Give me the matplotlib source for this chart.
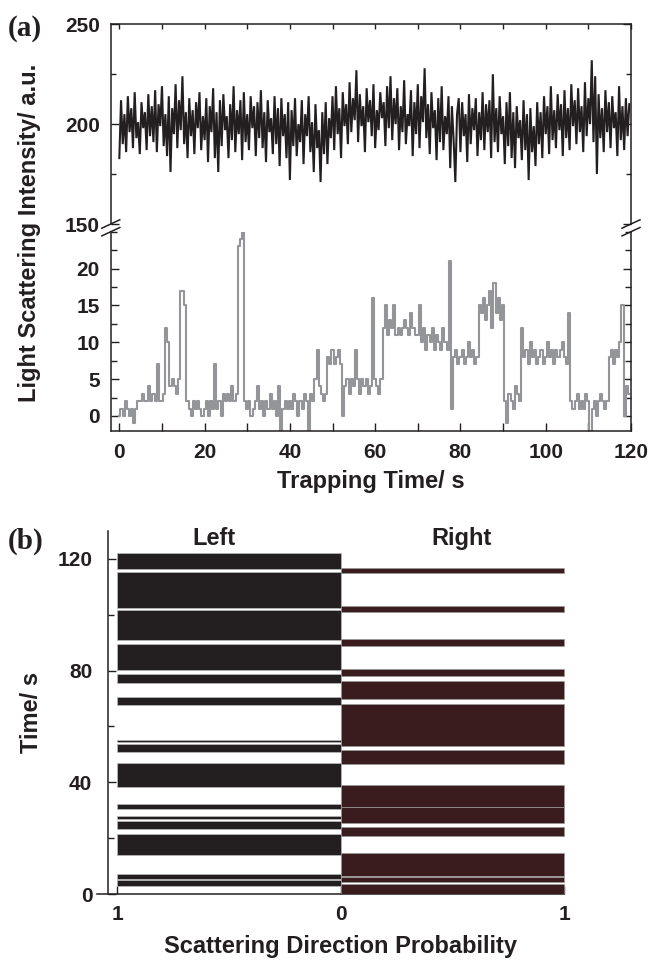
import numpy as np
import matplotlib
matplotlib.use('Agg')
import matplotlib.pyplot as plt
from matplotlib.ticker import MultipleLocator, FixedLocator
from matplotlib.lines import Line2D

plt.rcParams['font.family'] = ['Liberation Sans', 'DejaVu Sans']
plt.rcParams['font.weight'] = 'bold'

# ---------------- data ----------------
# panel (a): total scattering (black), sampled every 0.4 s
black_dt = 0.4
black_values = [
    183, 212, 190, 205, 186, 214, 196, 208, 188, 216, 193, 201, 185, 211, 198, 206, 187, 215, 194, 209,
    191, 217, 186, 210, 199, 219, 189, 205, 184, 214, 176, 208, 195, 220, 188, 212, 197, 224, 190, 206,
    183, 213, 194, 207, 185, 211, 198, 216, 187, 204, 192, 213, 181, 209, 196, 218, 183, 206, 176, 212,
    189, 215, 197, 204, 183, 210, 192, 219, 186, 207, 195, 212, 182, 216, 191, 205, 187, 214, 198, 209,
    184, 211, 193, 217, 188, 206, 181, 212, 196, 203, 185, 214, 190, 208, 179, 213, 194, 205, 183, 211,
    172, 207, 189, 213, 184, 200, 191, 212, 180, 205, 194, 214, 186, 201, 176, 210, 188, 197, 171, 206,
    185, 211, 180, 203, 193, 214, 187, 219, 195, 208, 183, 216, 199, 210, 190, 221, 196, 213, 202, 227,
    191, 215, 199, 209, 186, 218, 201, 212, 194, 220, 188, 207, 197, 216, 203, 211, 189, 219, 198, 224,
    192, 213, 200, 218, 187, 209, 196, 222, 190, 205, 199, 217, 184, 211, 195, 220, 188, 214, 201, 228,
    193, 210, 185, 216, 198, 207, 182, 213, 191, 219, 187, 204, 195, 214, 178, 209, 192, 171, 205, 213,
    186, 211, 194, 205, 181, 215, 190, 208, 197, 213, 184, 206, 192, 216, 187, 210, 196, 212, 183, 225,
    191, 208, 186, 214, 195, 204, 180, 211, 189, 216, 183, 206, 178, 209, 193, 202, 182, 212, 187, 205,
    172, 208, 186, 199, 179, 211, 190, 206, 183, 214, 195, 209, 185, 219, 192, 207, 188, 215, 197, 210,
    184, 217, 193, 208, 187, 220, 199, 212, 190, 218, 196, 209, 186, 221, 194, 213, 200, 232, 191, 224,
    175, 215, 193, 208, 186, 217, 196, 211, 188, 214, 198, 206, 184, 219, 192, 209, 187, 213, 194, 210,
]
# panel (a): single-direction scattering (gray), sampled every 0.5 s
gray_dt = 0.5
gray_values = [
    0, 1, 0, 2, 1, 0, 1, -1, 1, 2, 2, 3, 2, 2, 4, 2, 3, 2, 7, 2,
    2, 3, 12, 10, 4, 5, 4, 3, 5, 17, 17, 15, 2, 1, 0, 2, 1, 2, 1, 0,
    1, 2, 0, 2, 1, 7, 1, 2, 0, 3, 2, 3, 2, 4, 2, 3, 23, 24, 25, 2,
    1, 2, 0, 1, 2, 4, 1, 2, 0, 2, 1, 3, 1, 2, 0, 4, -2, 1, 2, 1,
    2, 1, 3, 2, 0, 2, 1, 3, 2, -2, 3, 2, 5, 9, 4, 3, 2, 3, 8, 7,
    9, 7, 8, 9, 7, 0, 4, 5, 3, 5, 4, 9, 5, 3, 5, 4, 5, 3, 4, 16,
    5, 4, 3, 5, 12, 15, 11, 13, 12, 15, 11, 12, 11, 12, 13, 12, 11, 14, 12, 11,
    11, 15, 10, 12, 9, 11, 10, 12, 9, 11, 10, 9, 12, 10, 9, 21, 1, 8, 9, 7,
    8, 9, 7, 8, 10, 8, 9, 7, 8, 15, 14, 16, 13, 15, 17, 12, 18, 14, 16, 13,
    15, 2, -1, 3, 2, 1, 4, 3, 2, 12, 8, 9, 7, 10, 8, 9, 7, 8, 9, 7,
    8, 10, 8, 9, 7, 9, 8, 9, 10, 8, 7, 14, 2, 1, 2, 3, 1, 2, 1, 3,
    2, -2, 1, 2, 0, 2, 3, 2, 1, 2, 8, 9, 7, 9, 8, 10, 15, 0, 4, 3,
]
time_ticks_a = [0, 20, 40, 60, 80, 100, 120]
upper_ticks = [150, 200, 250]
lower_ticks = [0, 5, 10, 15, 20]

# panel (b): time windows (s) of left / right scattering
left_start = [3.1, 5.5, 14.1, 23.4, 26.8, 30.6, 38.4, 50.9, 54.3, 67.6, 75.7, 80.1, 91.1, 102.5, 116.4]
left_end = [5.0, 7.25, 21.5, 26.2, 28.1, 32.3, 47.0, 53.6, 55.1, 70.6, 78.9, 89.5, 101.5, 115.2, 122.1]
right_start = [0.0, 4.5, 6.5, 20.9, 25.6, 31.3, 46.5, 53.1, 69.75, 78.2, 88.8, 100.9, 114.7]
right_end = [3.7, 6.1, 14.9, 24.1, 31.3, 39.0, 51.5, 68.2, 76.4, 80.7, 91.4, 103.1, 116.8]
prob_ticks = [-1, 0, 1]
prob_labels = ['1', '0', '1']
time_ticks_b = [0, 40, 80, 120]

# ---------------- figure ----------------
W, H = 649, 960
fig = plt.figure(figsize=(W / 100, H / 100), dpi=100)

def fx(x):
    return x / W

def fy(y):
    return 1 - y / H

def box(x0, y0, x1, y1):
    return [fx(x0), fy(y1), fx(x1) - fx(x0), fy(y0) - fy(y1)]

BLACK = '#231f20'
GRAY = '#939598'
RED = '#3a1c1f'
TS = 15
LS = 17

ax_top = fig.add_axes(box(110.8, 24.3, 631, 224))
ax_bot = fig.add_axes(box(110.8, 231.7, 631, 430.7))
ax_b = fig.add_axes(box(108.3, 530.7, 573, 894.3))

t_black = np.arange(len(black_values)) * black_dt
t_gray = np.arange(len(gray_values)) * gray_dt
ax_top.plot(t_black, black_values, color=BLACK, lw=1.5, solid_joinstyle='miter')
ax_bot.plot(t_gray, gray_values, color=GRAY, lw=1.5, drawstyle='steps-mid')

for ax in (ax_top, ax_bot, ax_b):
    for sp in ax.spines.values():
        sp.set_linewidth(1.1)
        sp.set_color(BLACK)

# upper
ax_top.set_xlim(-2, 120)
ax_top.set_ylim(150, 250)
ax_top.spines['bottom'].set_visible(False)
ax_top.xaxis.set_major_locator(MultipleLocator(10))
ax_top.tick_params(axis='x', which='both', bottom=False, top=True, labelbottom=False,
                   direction='in', length=3.5, width=1.0, color=BLACK)
ax_top.yaxis.set_major_locator(FixedLocator(upper_ticks))
ax_top.yaxis.set_minor_locator(MultipleLocator(25))
ax_top.tick_params(axis='y', which='both', left=True, right=True, direction='in',
                   width=1.0, color=BLACK, labelsize=TS, pad=8)
ax_top.tick_params(axis='y', which='major', length=6)
ax_top.tick_params(axis='y', which='minor', length=3.5)

# lower
ax_bot.set_xlim(-2, 120)
ax_bot.set_ylim(-2, 25)
ax_bot.spines['top'].set_visible(False)
ax_bot.xaxis.set_major_locator(FixedLocator(time_ticks_a))
ax_bot.xaxis.set_minor_locator(MultipleLocator(10))
ax_bot.tick_params(axis='x', which='both', direction='in', length=6, width=1.0,
                   color=BLACK, labelsize=TS, pad=9, top=False)
ax_bot.yaxis.set_major_locator(FixedLocator(lower_ticks))
ax_bot.yaxis.set_minor_locator(MultipleLocator(2.5))
ax_bot.tick_params(axis='y', which='both', left=True, right=True, direction='in',
                   width=1.0, color=BLACK, labelsize=TS, pad=8)
ax_bot.tick_params(axis='y', which='major', length=6)
ax_bot.tick_params(axis='y', which='minor', length=4)

for ax in (ax_top, ax_bot):
    for lab in ax.get_xticklabels() + ax.get_yticklabels():
        lab.set_fontweight('bold')
        lab.set_color(BLACK)

# break marks
for x0 in (110.8, 631):
    for y0 in (224, 231.7):
        fig.add_artist(Line2D([fx(x0 - 9), fx(x0 + 9)], [fy(y0 + 4.2), fy(y0 - 4.2)],
                              transform=fig.transFigure, color=BLACK, lw=1.1))

fig.text(fx(30), fy(233), 'Light Scattering Intensity/ a.u.', rotation=90,
         ha='center', va='center', fontsize=LS, fontweight='bold', color=BLACK)
fig.text(fx(371), fy(488), 'Trapping Time/ s', ha='center', va='baseline',
         fontsize=LS, fontweight='bold', color=BLACK)
fig.text(fx(8), fy(29), '(a)', ha='left', va='center', fontsize=21, fontweight='bold',
         family=['Liberation Serif', 'DejaVu Serif'], color=BLACK)

# panel (b)
left_h = [e - s for s, e in zip(left_start, left_end)]
right_h = [e - s for s, e in zip(right_start, right_end)]
ax_b.barh(left_start, [-1] * len(left_start), height=left_h, left=0, align='edge',
          color=BLACK, edgecolor='#bbbbbb', linewidth=0.5, zorder=3)
ax_b.barh(right_start, [1] * len(right_start), height=right_h, left=0, align='edge',
          color=RED, edgecolor='#999999', linewidth=0.5, zorder=3)
ax_b.set_xlim(-1.04, 1.04)
ax_b.set_ylim(0, 130)
ax_b.spines['top'].set_visible(False)
ax_b.spines['right'].set_visible(False)
ax_b.spines['bottom'].set_bounds(-1.09, 1.0)
ax_b.xaxis.set_major_locator(FixedLocator(prob_ticks))
ax_b.set_xticklabels(prob_labels)
ax_b.tick_params(axis='x', which='both', direction='in', length=6, width=1.0,
                 color=BLACK, labelsize=TS, pad=7.5)
ax_b.yaxis.set_major_locator(FixedLocator(time_ticks_b))
ax_b.yaxis.set_minor_locator(MultipleLocator(20))
ax_b.tick_params(axis='y', which='both', direction='in', width=1.0, color=BLACK,
                 labelsize=TS, pad=11.5)
ax_b.tick_params(axis='y', which='major', length=6)
ax_b.tick_params(axis='y', which='minor', length=4)
for lab in ax_b.get_xticklabels() + ax_b.get_yticklabels():
    lab.set_fontweight('bold')
    lab.set_color(BLACK)

fig.text(fx(214), fy(545), 'Left', ha='center', va='baseline', fontsize=LS,
         fontweight='bold', color=BLACK)
fig.text(fx(461.5), fy(545), 'Right', ha='center', va='baseline', fontsize=LS,
         fontweight='bold', color=BLACK)
fig.text(fx(31), fy(712), 'Time/ s', rotation=90, ha='center', va='center',
         fontsize=LS, fontweight='bold', color=BLACK)
fig.text(fx(340.5), fy(947), 'Scattering Direction Probability', ha='center', va='center',
         fontsize=LS, fontweight='bold', color=BLACK)
fig.text(fx(8), fy(541), '(b)', ha='left', va='center', fontsize=21, fontweight='bold',
         family=['Liberation Serif', 'DejaVu Serif'], color=BLACK)

fig.savefig('out.png', dpi=100)
